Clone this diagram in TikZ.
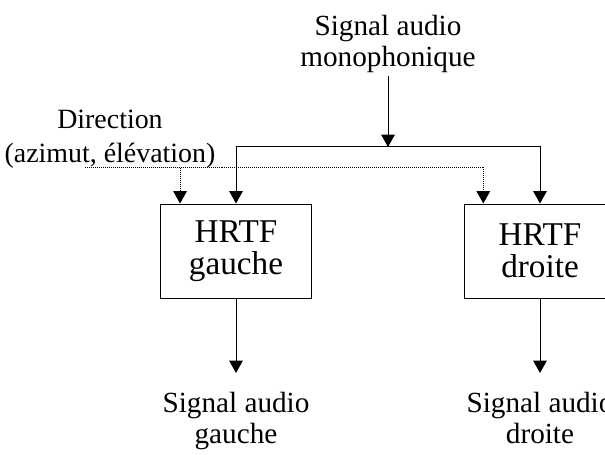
\documentclass[tikz,border=0pt]{standalone}
\usepackage{fontspec}
\setmainfont{Liberation Serif}
\usepackage{tikz}
\usetikzlibrary{arrows.meta, calc}
\tikzstyle{arrow} = [
    line width=0.75pt,
    -{Triangle[length=0.33cm, width=0.36cm]},
    color=black
]
\tikzstyle{dotarrow} = [
    arrow,
    dash pattern=on 0.75pt off 0.75pt
]
\tikzstyle{legende} = [
    align=center,
    inner sep=2pt,
    font=\fontsize{22}{23.5}\selectfont
]
\tikzstyle{sortie} = [
    legende,
    anchor=north,
    inner ysep=14pt
]
\tikzstyle{filtre} = [
    draw,
    line width=0.75pt,
    align=center,
    inner sep=0pt,
    minimum width=4.02cm,
    minimum height=2.487cm,
    font=\fontsize{25}{24}\selectfont
]

\begin{document}
\begin{tikzpicture}
        % Frame
        \useasboundingbox (0, 0) rectangle (16.007, 12.012);
        \clip (0, 0) rectangle (16.007, 12.012);
        
        % Inputs
        \node[legende] (mono) at (10.266, 10.85) {Signal audio\\monophonique};
        \node[legende, font=\fontsize{21}{25}\selectfont] (dir) at (2.91, 8.33) {Direction\\(azimut, élévation)};
        
        % Filters
        \node[filtre] (hrtfg) at (6.244, 5.371) {HRTF\\gauche};
        \node[filtre] (hrtfd) at (14.287, 5.371) {HRTF\\droite};
        
        % Outputs
        \node[sortie] (outg) at (6.244, 2.143) {Signal audio\\gauche};
        \node[sortie] (outd) at (14.287, 2.143) {Signal audio\\droite};
        
        % Branch points
        \coordinate (split) at (10.266, 8.123);
        \coordinate (dirstart) at (2.249, 7.593);
        
        % Mono signal
        \draw[arrow] (mono) -- (split);
        \draw[arrow] (split) -| (hrtfg.north);
        \draw[arrow] (split) -| (hrtfd.north);
        
        % Direction
        \draw[dotarrow] (dirstart) -| ([xshift=-1.48cm]hrtfg.north);
        \draw[dotarrow] (dirstart) -| ([xshift=-1.5cm]hrtfd.north);
        
        % Filtered signals
        \draw[arrow] (hrtfg) -- (outg.north);
        \draw[arrow] (hrtfd) -- (outd.north);
    \end{tikzpicture}
\end{document}
